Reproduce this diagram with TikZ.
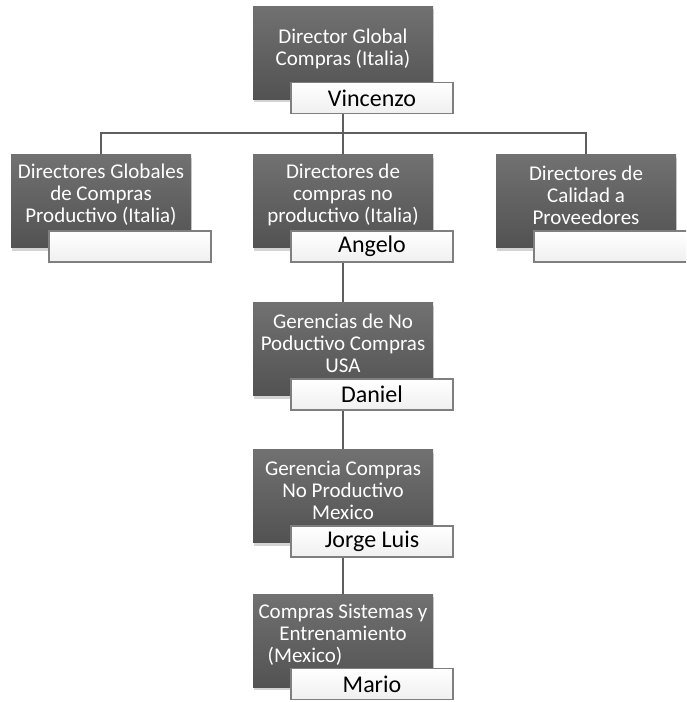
\documentclass[tikz,border=0pt]{standalone}
\usepackage{fontspec}
\setmainfont{Carlito}
\usetikzlibrary{positioning,shadows,backgrounds,calc}
\definecolor{bosslight}{HTML}{717171}
\definecolor{bossdark}{HTML}{525252}
\definecolor{tagline}{HTML}{7F7F7F}
\definecolor{wire}{HTML}{5E5E5E}

\tikzset{
  post/.style={minimum width=180pt,minimum height=93pt,inner sep=0pt,
    top color=bosslight,bottom color=bossdark,
    drop shadow={shadow xshift=1pt,shadow yshift=-3pt,opacity=0.35}},
  posttext/.style={text=white,align=center,inner sep=0pt,
    font=\fontsize{21}{22}\selectfont},
  tagbox/.style={draw=tagline,line width=1.2pt,top color=white,bottom color=gray!12,
    minimum width=162pt,minimum height=31pt,inner sep=0pt,
    font=\fontsize{24}{25}\selectfont},
  wire/.style={draw=wire,line width=1.5pt}
}

\begin{document}
\begin{tikzpicture}[x=1pt,y=1pt]
  \clip (0,0) rectangle (686,702);

  % Director global
  \node[post] (dir) at (343,649) {};
  \node[posttext] (dir-t) at ([yshift=4pt]dir.center) {Director Global\\Compras (Italia)};
  \node[tagbox] (dir-n) at ([xshift=29pt,yshift=-45pt]dir.center) {Vincenzo};

  % Directores (second row)
  \node[post] (prod) at (101,500.5) {};
  \node[posttext] (prod-t) at ([yshift=6.5pt]prod.center) {Directores Globales\\de Compras\\Productivo (Italia)};
  \node[tagbox] (prod-n) at ([xshift=29pt,yshift=-45pt]prod.center) {};

  \node[post] (noprod) at (343,500.5) {};
  \node[posttext] (noprod-t) at ([yshift=6.5pt]noprod.center) {Directores de\\compras no\\productivo (Italia)};
  \node[tagbox] (noprod-n) at ([xshift=29pt,yshift=-45pt]noprod.center) {Angelo};

  \node[post] (qual) at (586,500.5) {};
  \node[posttext] (qual-t) at ([yshift=6.5pt]qual.center) {Directores de\\Calidad a\\Proveedores};
  \node[tagbox] (qual-n) at ([xshift=29pt,yshift=-45pt]qual.center) {};

  % Gerencias
  \node[post] (usa) at (343,352.5) {};
  \node[posttext] (usa-t) at ([yshift=6.5pt]usa.center) {Gerencias de No\\Poductivo Compras\\USA};
  \node[tagbox] (usa-n) at ([xshift=29pt,yshift=-45pt]usa.center) {Daniel};

  \node[post] (mex) at (343,205.5) {};
  \node[posttext] (mex-t) at ([yshift=6.5pt]mex.center) {Gerencia Compras\\No Productivo\\Mexico};
  \node[tagbox] (mex-n) at ([xshift=29pt,yshift=-45pt]mex.center) {Jorge Luis};

  % Sistemas
  \node[post] (sis) at (343,61) {};
  \node[posttext] (sis-t) at ([yshift=6.5pt]sis.center) {Compras Sistemas y\\Entrenamiento\\(Mexico)\hspace*{76pt}};
  \node[tagbox] (sis-n) at ([xshift=29pt,yshift=-43pt]sis.center) {Mario};

  % Connectors
  \coordinate (bus) at (343,569);
  \begin{scope}[on background layer]
    \draw[wire] (dir.center) -- (noprod.center);
    \draw[wire] (prod.center) |- (bus) -| (qual.center);
    \draw[wire] (noprod.center) -- (usa.center) -- (mex.center) -- (sis.center);
  \end{scope}
\end{tikzpicture}
\end{document}
